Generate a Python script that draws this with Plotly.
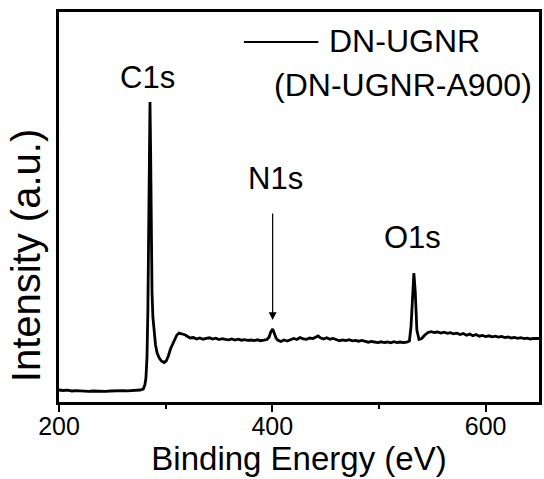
import plotly.graph_objects as go

# XPS survey spectrum of DN-UGNR (binding energy in eV, intensity in arbitrary units)
energy = [200, 204, 208, 212, 216, 220, 224, 228, 232, 236, 240, 244, 248, 252, 256, 260, 264, 268, 272, 276,
          279, 280.5, 281.5, 282.5, 283.3, 284.0, 284.7, 285.3, 285.9, 286.5, 287.2, 288.0, 289.0, 290.5, 292,
          294, 296, 298.5, 300.5, 302.5, 304.5, 306.5, 308.5, 310.5, 312.5, 314.5, 316.5, 318.5, 320.5, 323,
          326, 329, 332, 335, 338, 341, 344, 347, 350, 353, 356, 359, 362, 365, 368, 371, 374, 377, 380, 383,
          386, 389, 392, 395, 397, 398.5, 400.3, 402, 403.5, 405, 408, 411, 414, 417, 420, 423, 426, 429, 432,
          435, 438, 441, 443, 445, 448, 451, 454, 457, 460, 463, 466, 469, 472, 475, 478, 481, 484, 487, 490,
          493, 496, 499, 502, 505, 508, 511, 514, 517, 520, 523, 526, 528.5, 530, 531.5, 532.7, 534, 535.5,
          537.5, 540, 543, 546, 549, 552, 555, 558, 561, 564, 567, 570, 573, 576, 579, 582, 585, 588, 591,
          594, 597, 600, 603, 606, 609, 612, 615, 618, 621, 624, 627, 630, 633, 636, 639, 642, 645, 648, 650]

intensity = [12, 11.5, 11.8, 11, 11.4, 11, 11.3, 10.6, 11, 10.8, 11.2, 10.7, 11, 11.3, 11, 11.4, 11.2, 11.6, 11.5, 12,
             13, 17, 24, 45, 90, 170, 255, 300, 250, 160, 110, 85, 70, 57, 49,
             44, 41, 39.5, 41, 46, 53, 58, 63, 67, 69, 68.5, 68, 67, 65.5, 64,
             64.5, 63, 64, 62.8, 63.6, 64.2, 63, 63.8, 62.5, 63.4, 62.6, 62.2, 63, 62, 62.8, 61.8, 62.3, 61.6, 62, 61.4,
             62.2, 61.3, 61.8, 62.5, 65, 70, 73, 68, 64, 62, 60.5, 62, 61, 62.3, 63.5, 62.5, 64.5, 63.2, 62.8,
             64, 63.4, 65, 66, 64.2, 63, 64.2, 62.8, 63.5, 62.2, 61.3, 62, 61.4, 62.3, 61.2, 61.6, 60.8, 61.5, 60.4, 59.8,
             60.5, 59.6, 59.4, 60.2, 59.5, 60, 59.2, 60.4, 59.5, 60, 59.4, 59.8, 61, 75, 112, 129, 110, 72,
             62.5, 63.5, 67, 69.5, 70.3, 69.5, 70, 69, 69.8, 68.6, 69.4, 68.2, 68.8, 67.4, 68.5, 66.8, 67.9, 66.2, 67.5,
             65.8, 66.6, 65.5, 66.2, 65.2, 65.8, 64.9, 65.6, 64.4, 65, 64, 64.6, 63.7, 64.3, 63.4, 63.9, 63, 63.6, 63.2, 63.5]

# Peak labels and their positions (eV, intensity)
peak_names = ["C1s", "N1s", "O1s"]
peak_label_x = [282.8, 403.3, 531.2]
peak_label_y = [325, 224, 165]

# Arrow marking the weak N1s peak
arrow_x = 400.3
arrow_tail_y = 190
arrow_tip_y = 82

series_name = "DN-UGNR"
series_note = "(DN-UGNR-A900)"

FONT = "Liberation Sans, Arial, sans-serif"

fig = go.Figure()
fig.add_trace(go.Scatter(x=energy, y=intensity, mode="lines",
                         line=dict(color="black", width=2.8), name=series_name,
                         showlegend=False))

for name, lx, ly in zip(peak_names, peak_label_x, peak_label_y):
    fig.add_annotation(x=lx, y=ly, text=name, showarrow=False,
                       font=dict(family=FONT, size=31, color="black"),
                       xanchor="center", yanchor="middle")

fig.add_annotation(x=arrow_x, y=arrow_tip_y, ax=arrow_x, ay=arrow_tail_y,
                   xref="x", yref="y", axref="x", ayref="y", text="",
                   showarrow=True, arrowhead=2, arrowsize=1.3, arrowwidth=1.2,
                   arrowcolor="black")

# Legend: sample line plus centred two-line label
fig.add_shape(type="line", xref="paper", yref="paper",
              x0=(245 - 59) / 483, x1=(320 - 59) / 483,
              y0=(402 - 42) / 390, y1=(402 - 42) / 390,
              line=dict(color="black", width=2))
fig.add_annotation(xref="paper", yref="paper", x=(407 - 59) / 483, y=(402 - 41) / 390,
                   text=series_name, showarrow=False, xanchor="center", yanchor="middle",
                   font=dict(family=FONT, size=32, color="black"))
fig.add_annotation(xref="paper", yref="paper", x=(405 - 59) / 483, y=(402 - 85) / 390,
                   text=series_note, showarrow=False, xanchor="center", yanchor="middle",
                   font=dict(family=FONT, size=32, color="black"))

# Y axis title
fig.add_annotation(xref="paper", yref="paper", x=(26 - 59) / 483, y=(402 - 256) / 390,
                   text="Intensity (a.u.)", textangle=-90, showarrow=False,
                   xanchor="center", yanchor="middle",
                   font=dict(family=FONT, size=40, color="black"))

fig.update_layout(
    width=544, height=479,
    margin=dict(l=59, r=2, t=12, b=77),
    paper_bgcolor="white", plot_bgcolor="white",
    font=dict(family=FONT, color="black"),
    xaxis=dict(range=[200, 650], tick0=200, dtick=200, ticks="outside", ticklen=7, tickwidth=2,
               tickcolor="black", showline=True, linecolor="black", linewidth=2.5, mirror=True,
               showgrid=False, zeroline=False, tickfont=dict(family=FONT, size=25, color="black"),
               ticklabelstandoff=-7,
               minor=dict(tick0=200, dtick=100, ticks="outside", ticklen=4, tickwidth=2, tickcolor="black",
                          showgrid=False),
               title=dict(text="Binding Energy (eV)", font=dict(family=FONT, size=33, color="black"),
                          standoff=8)),
    yaxis=dict(range=[0, 390], showticklabels=False, ticks="", showline=True, linecolor="black",
               linewidth=2.5, mirror=True, showgrid=False, zeroline=False),
)

fig.write_html("out.html")
